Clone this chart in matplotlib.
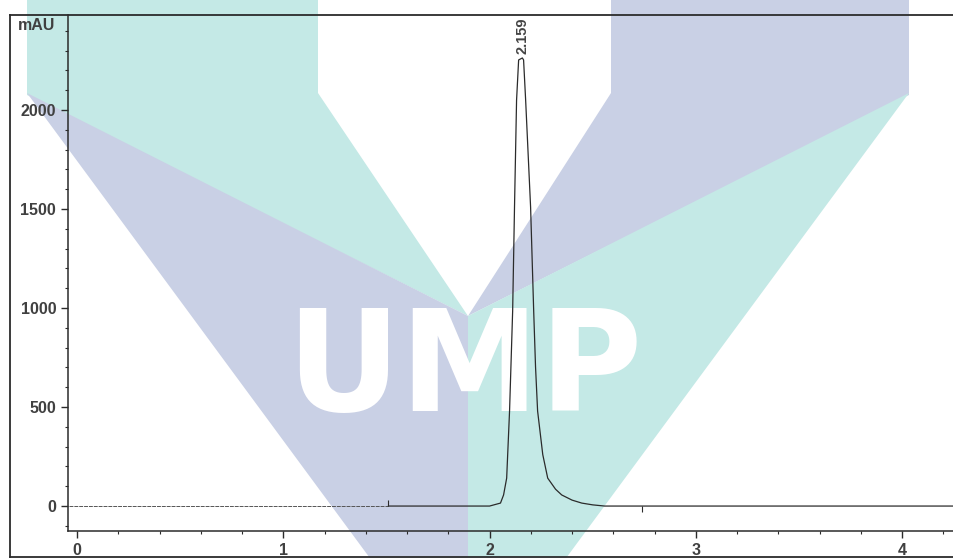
import matplotlib
matplotlib.use('Agg')
import matplotlib.pyplot as plt
from matplotlib.patches import Polygon
from matplotlib.lines import Line2D
from matplotlib.ticker import MultipleLocator

plt.rcParams['font.family'] = ['Liberation Sans', 'DejaVu Sans']

# chromatogram trace (time in min, signal in mAU)
time_min = [1.51, 1.80, 2.00, 2.053, 2.068, 2.083, 2.097, 2.112, 2.121, 2.131,
            2.141, 2.159, 2.165, 2.175, 2.199, 2.214, 2.223, 2.233, 2.258,
            2.282, 2.320, 2.350, 2.400, 2.447, 2.500, 2.558, 3.00, 3.50, 4.00, 4.26]
signal_mau = [0, 0, 0, 15, 56, 141, 480, 985, 1510, 2050,
              2253, 2263, 2253, 2050, 1510, 985, 702, 480, 260,
              141, 85, 56, 30, 15, 6, 0, 0, 0, 0, 0]
baseline_time = [-0.04, 1.51]
baseline_mau = [0, 0]
peak_time = 2.159
peak_height = 2263
peak_label = '2.159'
event_times = [1.51, 2.74]

x_ticks = [0, 1, 2, 3, 4]
y_ticks = [0, 500, 1000, 1500, 2000]
y_unit = 'mAU'

W, H = 954, 558
teal = '#c4e9e6'
purple = '#c9d0e5'
ink = '#2b2b2b'


def px(x, y):
    return (x / W, 1 - y / H)


fig = plt.figure(figsize=(W / 100, H / 100), dpi=100)

# UMP watermark behind everything
wm = [
    (teal, [(27, -5), (318, -5), (318, 93), (468, 316), (27, 95)]),
    (purple, [(27, 93), (468, 316), (468, 565), (375, 565)]),
    (purple, [(611, -5), (909, -5), (909, 95), (468, 316), (611, 93)]),
    (teal, [(909, 93), (468, 316), (468, 565), (561, 565)]),
]
for col, pts in wm:
    fig.add_artist(Polygon([px(*p) for p in pts], closed=True, facecolor=col,
                           edgecolor='none', transform=fig.transFigure, zorder=-10))
fig.text(*px(464, 411), 'UMP', color='white', fontsize=101, fontweight='bold',
         family='DejaVu Sans', ha='center', va='baseline', zorder=-9)

ax = fig.add_axes([68 / W, (H - 531) / H, (W - 68) / W, (531 - 15) / H])
ax.set_facecolor('none')

ax.plot(baseline_time, baseline_mau, color='#555555', lw=0.7, ls=(0, (4, 1)))
ax.plot(time_min, signal_mau, color=ink, lw=0.9)
ax.vlines(event_times[:1], 0, 30, color=ink, lw=0.8)
ax.vlines(event_times[1:], -30, 0, color=ink, lw=0.8)
ax.text(peak_time, peak_height + 20, peak_label, rotation=90, ha='center',
        va='bottom', fontsize=10.5, fontweight='bold', color='#444444')

ax.set_xlim(-0.044, 4.252)
ax.set_ylim(-126, 2480)
ax.set_xticks(x_ticks)
ax.set_yticks(y_ticks)
ax.xaxis.set_minor_locator(MultipleLocator(0.2))
ax.yaxis.set_minor_locator(MultipleLocator(100))
ax.tick_params(axis='both', which='major', colors=ink, labelcolor='#404040',
               labelsize=11.5, width=1.0, length=5, pad=3.5)
ax.tick_params(axis='both', which='minor', colors=ink, width=0.8, length=2.5)
for lab in ax.get_xticklabels() + ax.get_yticklabels():
    lab.set_fontweight('bold')

for side in ['top', 'right']:
    ax.spines[side].set_visible(False)
for side in ['left', 'bottom']:
    ax.spines[side].set_color(ink)
    ax.spines[side].set_linewidth(1.1)

fig.text(*px(55, 25), y_unit, ha='right', va='center', fontsize=11.5,
         fontweight='bold', color='#404040')

# outer frame of the printout
for a, b in [((10, 15), (W + 5, 15)), ((10, 15), (10, 557)), ((10, 557), (W + 5, 557))]:
    fig.add_artist(Line2D([px(*a)[0], px(*b)[0]], [px(*a)[1], px(*b)[1]],
                          color=ink, lw=1.3, transform=fig.transFigure))

fig.savefig('out.png', dpi=100)
